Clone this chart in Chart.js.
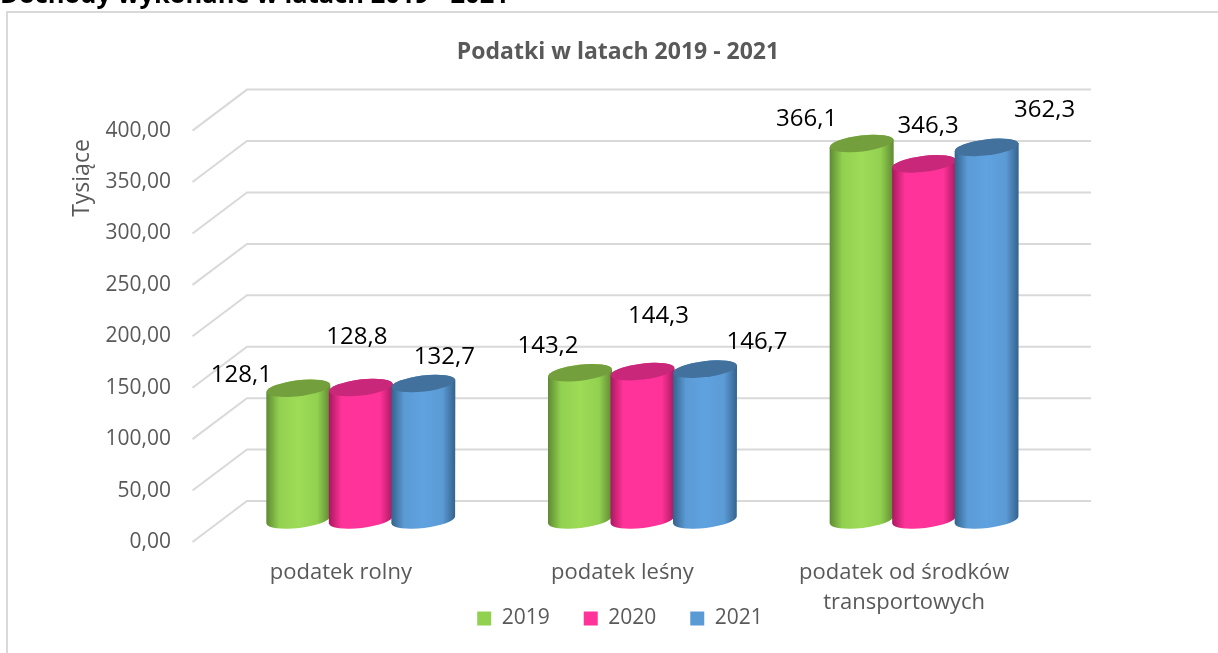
<!DOCTYPE html>
<html lang="pl">
<head>
<meta charset="utf-8">
<style>html,body{margin:0;padding:0;background:#fff;overflow:hidden}#wrap{width:1218px;height:653px;position:relative}</style>
<script src="https://cdn.jsdelivr.net/npm/chart.js@4"></script>
</head>
<body>
<div id="wrap"><canvas id="c" width="1218" height="653"></canvas></div>
<script>
const categories = ['podatek rolny', 'podatek leśny', ['podatek od środków', 'transportowych']];
const seriesNames = ['2019', '2020', '2021'];
const values2019 = [128.1, 143.2, 366.1];
const values2020 = [128.8, 144.3, 346.3];
const values2021 = [132.7, 146.7, 362.3];
const tickValues = [0, 50, 100, 150, 200, 250, 300, 350, 400];
const chartTitle = 'Podatki w latach 2019 - 2021';
const pageHeading = 'Dochody wykonane w latach 2019 - 2021';
const axisTitle = 'Tysiące';

const labelShift = [
  [[-57, -13], [-4, -50], [21, -26]],
  [[-32, -27], [16, -55], [52, -27]],
  [[-55, -24], [4, -38], [58, -37]]
];
const palette = [
  {base:'#92d050', light:'#9edb57', dark:'#5f8a32', top:'#739f3d'},
  {base:'#ff3399', light:'#ff3399', dark:'#a8195f', top:'#c9287a'},
  {base:'#5b9bd5', light:'#5fa2e0', dark:'#34628c', top:'#41719c'}
];
const FONT = '"Open Sans", sans-serif';
const TXT = '#595959';
const GRID = '#d9d9d9';

function cylinder(ctx, el, p) {
  const cx = el.x, w = el.width, rx = w / 2, ry = 8, rot = -0.12;
  const top = el.y, base = el.base;
  const dy = rx * Math.sin(rot);
  const g = ctx.createLinearGradient(cx - rx, 0, cx + rx, 0);
  g.addColorStop(0, p.dark);
  g.addColorStop(0.2, p.base);
  g.addColorStop(0.5, p.light);
  g.addColorStop(0.8, p.base);
  g.addColorStop(1, p.dark);
  ctx.fillStyle = g;
  ctx.beginPath();
  ctx.moveTo(cx - rx, top - dy);
  ctx.lineTo(cx - rx, base - dy);
  ctx.ellipse(cx, base, rx, ry, rot, Math.PI, 0, true);
  ctx.lineTo(cx + rx, top + dy);
  ctx.closePath();
  ctx.fill();
  ctx.beginPath();
  ctx.ellipse(cx, top, rx, ry, rot, 0, Math.PI * 2);
  ctx.fill();
  ctx.fillStyle = p.top;
  ctx.fill();
}

const scene = {
  id: 'scene',
  afterLayout(chart) {
    const l = chart.legend, h = l.height;
    l.top = 608 - l.options.labels.padding;
    l.bottom = l.top + h;
    l.left += 2;
    l.right += 2;
  },
  beforeDraw(chart) {
    const ctx = chart.ctx;
    ctx.save();
    ctx.fillStyle = '#fff';
    ctx.fillRect(0, 0, chart.width, chart.height);
    ctx.strokeStyle = GRID;
    ctx.lineWidth = 2;
    ctx.beginPath();
    ctx.moveTo(7, chart.height + 2);
    ctx.lineTo(7, 12);
    ctx.lineTo(chart.width + 2, 12);
    ctx.stroke();
    ctx.fillStyle = '#000';
    ctx.font = 'bold 25.5px ' + FONT;
    ctx.textAlign = 'left';
    ctx.textBaseline = 'alphabetic';
    ctx.fillText(pageHeading, 0, 3);
    ctx.save();
    ctx.fillStyle = TXT;
    ctx.font = '23px ' + FONT;
    ctx.translate(82, 178);
    ctx.rotate(-Math.PI / 2);
    ctx.textAlign = 'center';
    ctx.textBaseline = 'middle';
    ctx.fillText(axisTitle, 0, 0);
    ctx.restore();
    ctx.restore();
  },
  beforeDatasetsDraw(chart) {
    const ctx = chart.ctx, a = chart.chartArea, y = chart.scales.y;
    ctx.save();
    ctx.strokeStyle = GRID;
    ctx.lineWidth = 2;
    const fx = a.left - 27.5, bx = a.left + 27, rx = a.right + 26;
    tickValues.forEach(v => {
      const py = y.getPixelForValue(v);
      ctx.beginPath();
      ctx.moveTo(fx, py + 22);
      ctx.lineTo(bx, py - 19);
      ctx.lineTo(rx, py - 19);
      ctx.stroke();
    });
    chart.data.datasets.forEach((ds, i) => {
      chart.getDatasetMeta(i).data.forEach(el => cylinder(ctx, el, palette[i]));
    });
    ctx.fillStyle = '#000';
    ctx.font = '24px ' + FONT;
    ctx.textAlign = 'center';
    ctx.textBaseline = 'middle';
    chart.data.datasets.forEach((ds, i) => {
      chart.getDatasetMeta(i).data.forEach((el, j) => {
        const s = labelShift[j][i];
        ctx.fillText(ds.data[j].toFixed(1).replace('.', ','), el.x + s[0], el.y + s[1]);
      });
    });
    ctx.restore();
    return false;
  }
};

new Chart(document.getElementById('c'), {
  type: 'bar',
  data: {
    labels: categories,
    datasets: [
      {label: seriesNames[0], data: values2019, backgroundColor: palette[0].base},
      {label: seriesNames[1], data: values2020, backgroundColor: palette[1].base},
      {label: seriesNames[2], data: values2021, backgroundColor: palette[2].base}
    ]
  },
  plugins: [scene],
  options: {
    responsive: false,
    animation: false,
    layout: {padding: {left: 20, right: 2, top: 0, bottom: -32}},
    datasets: {bar: {categoryPercentage: 0.6657, barPercentage: 1.024}},
    scales: {
      x: {
        grid: {display: false},
        border: {display: false},
        afterFit(s) { s.height = 100; },
        ticks: {
          labelOffset: -20,
          padding: 30,
          maxRotation: 0,
          minRotation: 0,
          color: TXT,
          font: {family: FONT, size: 22, lineHeight: 1.36}
        }
      },
      y: {
        min: 0,
        max: 400,
        grid: {display: false},
        border: {display: false},
        afterFit(s) { s.width = 200; },
        afterBuildTicks(s) { s.ticks = tickValues.map(v => ({value: v})); },
        ticks: {
          padding: 41,
          labelOffset: 22,
          color: TXT,
          font: {family: FONT, size: 21},
          callback: v => v.toFixed(2).replace('.', ',')
        }
      },
      side: {
        type: 'linear',
        position: 'right',
        grid: {display: false},
        border: {display: false},
        ticks: {display: false},
        afterFit(s) { s.width = 151; }
      }
    },
    plugins: {
      tooltip: {enabled: false},
      title: {
        display: true,
        text: chartTitle,
        color: TXT,
        font: {family: FONT, size: 23, weight: 'bold', lineHeight: 1.2},
        padding: {top: 39, bottom: 42}
      },
      legend: {
        position: 'bottom',
        labels: {
          boxWidth: 14,
          boxHeight: 14,
          padding: 34,
          color: TXT,
          font: {family: FONT, size: 21}
        }
      }
    }
  }
});
</script>
</body>
</html>
